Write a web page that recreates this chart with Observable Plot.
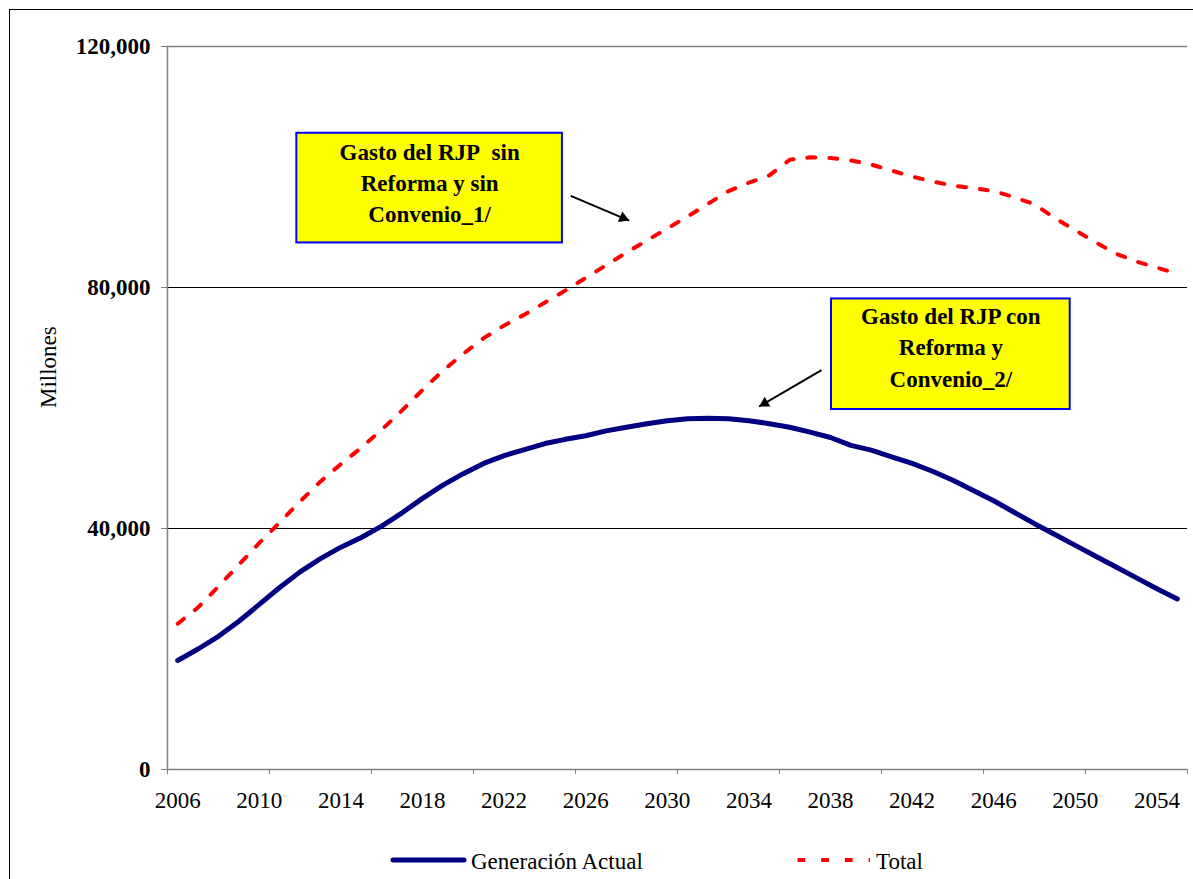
<!DOCTYPE html>
<html>
<head>
<meta charset="utf-8">
<script src="https://cdn.jsdelivr.net/npm/d3@7"></script>
<script src="https://cdn.jsdelivr.net/npm/@observablehq/plot@0.6"></script>
<style>
  html, body { margin: 0; padding: 0; background: #fff; overflow: hidden; }
  #frame { position: absolute; left: 9px; top: 9px; width: 1300px; height: 1000px; border-left: 1.5px solid #000; border-top: 1.5px solid #000; }
  #chart { position: absolute; left: 0; top: 0; }
  #legend { position: absolute; left: 0; top: 840px; }
</style>
</head>
<body>
<div id="frame"></div>
<div id="chart"></div>
<svg id="legend" width="1193" height="39"></svg>
<script>
// Categories (years)
const years = [2006, 2007, 2008, 2009, 2010, 2011, 2012, 2013, 2014, 2015,
  2016, 2017, 2018, 2019, 2020, 2021, 2022, 2023, 2024, 2025,
  2026, 2027, 2028, 2029, 2030, 2031, 2032, 2033, 2034, 2035,
  2036, 2037, 2038, 2039, 2040, 2041, 2042, 2043, 2044, 2045,
  2046, 2047, 2048, 2049, 2050, 2051, 2052, 2053, 2054, 2055];

// Series values (millones)
const generacionActual = [18100, 20000, 22100, 24600, 27400, 30200, 32800, 35000, 36900, 38500,
  40400, 42600, 45000, 47200, 49100, 50800, 52100, 53100, 54100, 54800,
  55400, 56200, 56800, 57400, 57900, 58200, 58300, 58200, 57900, 57400,
  56800, 56000, 55100, 53800, 53000, 51900, 50800, 49500, 48000, 46300,
  44600, 42700, 40800, 39000, 37200, 35400, 33600, 31800, 30000, 28300];

const total = [24200, 26900, 30400, 34000, 37600, 41000, 44500, 47800, 50700, 53400,
  56400, 59600, 63000, 66200, 69000, 71600, 73700, 75500, 77500, 79500,
  81600, 83700, 85800, 87800, 89800, 91800, 93900, 96000, 97400, 98600,
  101200, 101600, 101500, 101100, 100400, 99400, 98400, 97600, 96900, 96500,
  96000, 95000, 93800, 91500, 89500, 87500, 85600, 84300, 83300, 82300];

// Tick labels
const yTicks = [0, 40000, 80000, 120000];
const xLabelYears = [2006, 2010, 2014, 2018, 2022, 2026, 2030, 2034, 2038, 2042, 2046, 2050, 2054];
const xTickMarks = [2005.5, 2010.5, 2015.5, 2020.5, 2025.5, 2030.5, 2035.5, 2040.5, 2045.5, 2050.5, 2055.5];

const seriesNames = ["Generación Actual", "Total"];
const yTitle = "Millones";

// Annotations (data coordinates)
const annotationBoxes = [
  {x1: 2011.84, x2: 2024.86, y1: 87400, y2: 105600},
  {x1: 2038.05, x2: 2049.75, y1: 59750, y2: 78100}
];
const annotationTexts = [
  {x: 2018.35, y: 97700, text: "Gasto del RJP\u00a0 sin\nReforma y sin\nConvenio_1/"},
  {x: 2043.9, y: 70400, text: "Gasto del RJP con\nReforma y\nConvenio_2/"}
];
const annotationArrows = [
  {x1: 2025.27, y1: 95200, x2: 2028.13, y2: 91100},
  {x1: 2037.56, y1: 66300, x2: 2034.5, y2: 60250}
];

const table = years.map((year, i) => ({year, actual: generacionActual[i], total: total[i]}));

const FONT = "'Liberation Serif', 'Times New Roman', Times, 'DejaVu Serif', serif";
const FS = 23;

const frameOptions = {
  width: 1193,
  height: 815,
  marginLeft: 167,
  marginRight: 6,
  marginTop: 46,
  marginBottom: 46,
  x: {type: "linear", domain: [2005.5, 2055.5]},
  y: {domain: [0, 120000]}
};

// Probe the scales to orient the filled arrowheads in screen space
const probe = Plot.plot({...frameOptions, marks: [Plot.frame()]});
const sx = probe.scale("x"), sy = probe.scale("y");
const HEAD_R = 4.2;
const headTipOffset = 2 * Math.sqrt((HEAD_R * HEAD_R * Math.PI) / (Math.sqrt(3) * 3));
const arrowHeads = annotationArrows.map(a => {
  const px1 = sx.apply(a.x1), py1 = sy.apply(a.y1);
  const px2 = sx.apply(a.x2), py2 = sy.apply(a.y2);
  const dx = px2 - px1, dy = py2 - py1, len = Math.hypot(dx, dy);
  const cx = px2 - dx / len * headTipOffset, cy = py2 - dy / len * headTipOffset;
  const angle = Math.atan2(dx, -dy) * 180 / Math.PI;
  return {x: sx.invert(cx), y: sy.invert(cy), angle};
});

const chart = Plot.plot({
  ...frameOptions,
  style: {fontFamily: FONT, fontSize: FS + "px", color: "#000", background: "transparent", overflow: "visible"},
  marks: [
    Plot.ruleY([40000, 80000], {stroke: "#000", strokeWidth: 1}),
    Plot.ruleY([120000], {stroke: "#808080", strokeWidth: 1.5}),
    Plot.ruleX([2005.5], {stroke: "#808080", strokeWidth: 1.5}),
    Plot.ruleY([0], {stroke: "#808080", strokeWidth: 1.5}),
    Plot.axisY({ticks: yTicks, tickFormat: d3.format(","), tickSize: 6, tickPadding: 11,
      fontWeight: "bold", fontSize: FS, stroke: "#808080", fill: "#000", label: null}),
    Plot.axisX({ticks: xTickMarks, tickSize: 5, tickFormat: () => "", stroke: "#808080", label: null}),
    Plot.axisX({ticks: xLabelYears, tickSize: 0, tickPadding: 22, tickFormat: d => String(d),
      fontSize: FS, fill: "#000", label: null}),
    Plot.text([yTitle], {frameAnchor: "left", dx: -119, rotate: -90, fontSize: FS, fill: "#000"}),
    Plot.line(table, {x: "year", y: "total", stroke: "#FF0000", strokeWidth: 4, strokeDasharray: "8,14"}),
    Plot.line(table, {x: "year", y: "actual", stroke: "#000080", strokeWidth: 5,
      strokeLinecap: "round", strokeLinejoin: "round"}),
    Plot.rect(annotationBoxes, {x1: "x1", x2: "x2", y1: "y1", y2: "y2", fill: "#FFFF00", stroke: "#0000FF", strokeWidth: 2}),
    Plot.text(annotationTexts, {x: "x", y: "y", text: "text", fontWeight: "bold", fontSize: FS,
      lineHeight: 1.36, fill: "#000"}),
    Plot.link(annotationArrows, {x1: "x1", y1: "y1", x2: "x2", y2: "y2", stroke: "#000", strokeWidth: 2}),
    Plot.dot(arrowHeads, {x: "x", y: "y", symbol: "triangle", r: HEAD_R, rotate: "angle", fill: "#000", stroke: "none"})
  ]
});
document.getElementById("chart").appendChild(chart);

// Legend (below the chart)
const legend = d3.select("#legend").style("font-family", FONT);
legend.append("line").attr("x1", 393).attr("x2", 464).attr("y1", 20).attr("y2", 20)
  .attr("stroke", "#000080").attr("stroke-width", 5).attr("stroke-linecap", "round");
legend.append("text").attr("x", 471).attr("y", 29).attr("font-size", FS).attr("fill", "#000").text(seriesNames[0]);
legend.append("line").attr("x1", 797.5).attr("x2", 870).attr("y1", 20).attr("y2", 20)
  .attr("stroke", "#FF0000").attr("stroke-width", 4).attr("stroke-dasharray", "7.7,16");
legend.append("text").attr("x", 876).attr("y", 29).attr("font-size", FS).attr("fill", "#000").text(seriesNames[1]);
</script>
</body>
</html>
